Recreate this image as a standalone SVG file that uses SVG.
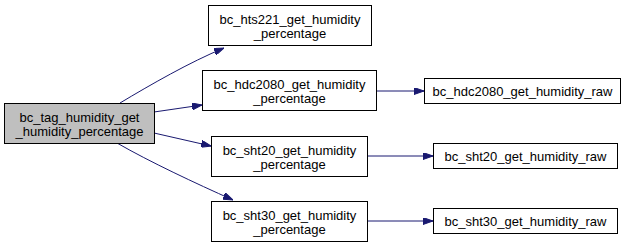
<svg xmlns="http://www.w3.org/2000/svg" width="632" height="247" viewBox="0 0 632 247">
  <style>
    .node rect { fill: #ffffff; stroke: #000000; stroke-width: 1; }
    .node.root rect { fill: #bfbfbf; }
    .node text { font-family: "Liberation Sans", Arial, Helvetica, sans-serif; font-size: 13px; fill: #000000; text-anchor: middle; }
    .edge { fill: none; stroke: #191970; stroke-width: 1; }
  </style>
  <defs>
    <marker id="arrow" viewBox="0 0 10 7" refX="10" refY="3.5" markerWidth="10" markerHeight="7" markerUnits="userSpaceOnUse" orient="auto">
      <polygon points="0,0 10,3.5 0,7" fill="#191970" stroke="#191970"/>
    </marker>
  </defs>
  <rect width="632" height="247" fill="#ffffff"/>

  <g id="connectors">
    <path class="edge" d="M120,103 C150,85 190,62 224,48" marker-end="url(#arrow)"/>
    <path class="edge" d="M154,112 L202,105" marker-end="url(#arrow)"/>
    <path class="edge" d="M154,133 L211,146" marker-end="url(#arrow)"/>
    <path class="edge" d="M117,143 C150,162 195,183 233,200" marker-end="url(#arrow)"/>
    <path class="edge" d="M376,91 L424,91" marker-end="url(#arrow)"/>
    <path class="edge" d="M367,156 L433,156" marker-end="url(#arrow)"/>
    <path class="edge" d="M367,221 L433,221" marker-end="url(#arrow)"/>
  </g>

  <g id="bc_tag_humidity_get_humidity_percentage" class="node root">
    <rect x="4.5" y="103.5" width="150" height="40"/>
    <text x="79.5" y="121.5">bc_tag_humidity_get</text>
    <text x="79.5" y="135.5">_humidity_percentage</text>
  </g>
  <g id="bc_hts221_get_humidity_percentage" class="node">
    <rect x="208.5" y="5.5" width="163" height="40"/>
    <text x="290" y="23.5">bc_hts221_get_humidity</text>
    <text x="290" y="37.5">_percentage</text>
  </g>
  <g id="bc_hdc2080_get_humidity_percentage" class="node">
    <rect x="202.5" y="70.5" width="174" height="40"/>
    <text x="289.5" y="88.5">bc_hdc2080_get_humidity</text>
    <text x="289.5" y="102.5">_percentage</text>
  </g>
  <g id="bc_sht20_get_humidity_percentage" class="node">
    <rect x="211.5" y="136.5" width="156" height="40"/>
    <text x="289.5" y="154.5">bc_sht20_get_humidity</text>
    <text x="289.5" y="168.5">_percentage</text>
  </g>
  <g id="bc_sht30_get_humidity_percentage" class="node">
    <rect x="211.5" y="201.5" width="156" height="40"/>
    <text x="289.5" y="219.5">bc_sht30_get_humidity</text>
    <text x="289.5" y="233.5">_percentage</text>
  </g>
  <g id="bc_hdc2080_get_humidity_raw" class="node">
    <rect x="424.5" y="78.5" width="196" height="25"/>
    <text x="522.5" y="96">bc_hdc2080_get_humidity_raw</text>
  </g>
  <g id="bc_sht20_get_humidity_raw" class="node">
    <rect x="433.5" y="143.5" width="184" height="25"/>
    <text x="525.5" y="161">bc_sht20_get_humidity_raw</text>
  </g>
  <g id="bc_sht30_get_humidity_raw" class="node">
    <rect x="433.5" y="208.5" width="184" height="25"/>
    <text x="525.5" y="226">bc_sht30_get_humidity_raw</text>
  </g>
</svg>
